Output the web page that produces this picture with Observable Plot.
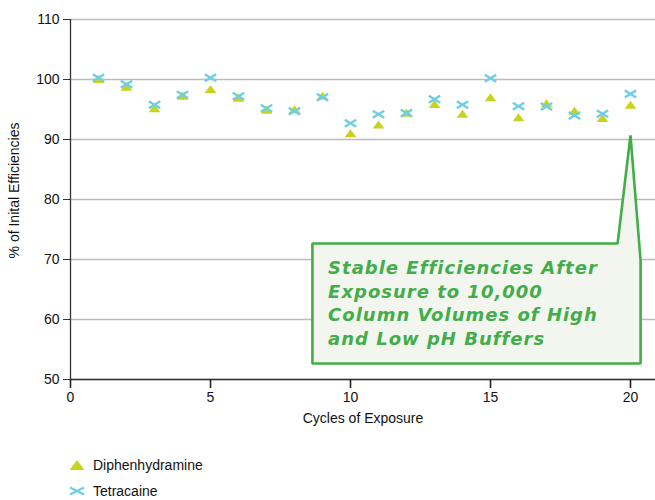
<!DOCTYPE html>
<html>
<head>
<meta charset="utf-8">
<script src="https://cdn.jsdelivr.net/npm/d3@7"></script>
<script src="https://cdn.jsdelivr.net/npm/@observablehq/plot@0.6"></script>
<style>
  html, body { margin: 0; padding: 0; background: #fff; }
  body { width: 655px; height: 500px; position: relative; overflow: hidden; font-family: "Liberation Sans", Arial, Helvetica, sans-serif; }
  #title { position: absolute; left: 0; top: 0; width: 655px; height: 8px; overflow: hidden; }
  #title div { position: absolute; left: 6px; top: -17px; white-space: nowrap; font-size: 21px; font-weight: bold; color: #1d7bbf; }
  #title span.light { color: #8fc8ea; }
  #chart { position: absolute; left: 0; top: 0; }
  #legend { position: absolute; left: 68px; top: 452px; font-size: 14px; color: #111; }
  #legend .row { display: flex; align-items: center; height: 26px; }
  #legend svg { margin-right: 7px; }
  .callout-text text { letter-spacing: 1px; }
</style>
</head>
<body>
<div id="title"><div><span class="light">Figure 4: Column Efficiencies with Alternating</span> High pH Testing for 20 Cycles of Exposure</div></div>
<div id="chart"></div>
<div id="legend"></div>
<script>
// ---- data ----
const cycles = [1, 2, 3, 4, 5, 6, 7, 8, 9, 10, 11, 12, 13, 14, 15, 16, 17, 18, 19, 20];
const diphenhydramine = [100.1, 98.8, 95.2, 97.3, 98.4, 96.95, 94.95, 95.05, 97.3, 91.05,
                         92.5, 94.45, 95.9, 94.3, 97.05, 93.7, 96.05, 94.8, 93.6, 95.8];
const tetracaine = [100.3, 99.2, 95.8, 97.45, 100.3, 97.2, 95.2, 94.7, 97.05, 92.7,
                    94.2, 94.4, 96.7, 95.8, 100.2, 95.55, 95.5, 94.0, 94.3, 97.6];
const seriesNames = ["Diphenhydramine", "Tetracaine"];
const xTicks = [0, 5, 10, 15, 20];
const yTicks = [50, 60, 70, 80, 90, 100, 110];
const calloutLines = ["Stable Efficiencies After", "Exposure to 10,000", "Column Volumes of High", "and Low pH Buffers"];
// callout outline (data units: cycles, %), pointing at cycle 20
const calloutX = [8.64, 19.54, 20.0, 20.36, 20.36, 8.64];
const calloutY = [72.67, 72.67, 90.7, 69.83, 52.67, 52.67];
const calloutTextX = 9.2;
const calloutTextY = 70.3;

// ---- styles ----
const triColor = "#c9d31f";
const xColor = "#6fcfe2";
const green = "#42ad4a";

const rowsD = cycles.map((c, i) => ({cycle: c, value: diphenhydramine[i]}));
const rowsT = cycles.map((c, i) => ({cycle: c, value: tetracaine[i]}));
const callout = calloutX.map((x, i) => ({x, y: calloutY[i]}));

// flat X symbol (wider than tall)
const flatX = {
  draw(ctx, size) {
    const w = Math.sqrt(size) * 0.62, h = w * 0.62;
    ctx.moveTo(-w, -h); ctx.lineTo(w, h);
    ctx.moveTo(-w, h); ctx.lineTo(w, -h);
  }
};
// slightly flattened triangle
const flatTri = {
  draw(ctx, size) {
    const w = Math.sqrt(size) * 0.72, h = w * 0.68;
    ctx.moveTo(0, -h); ctx.lineTo(w, h); ctx.lineTo(-w, h); ctx.closePath();
  }
};

const plot = Plot.plot({
  width: 655,
  height: 445,
  marginLeft: 70,
  marginRight: 0,
  marginTop: 19,
  marginBottom: 66,
  style: {fontFamily: "'Liberation Sans', Arial, Helvetica, sans-serif", fontSize: "14px", color: "#111", background: "#fff"},
  x: {domain: [0, 20.893], label: null},
  y: {domain: [50, 110], label: null},
  marks: [
    Plot.gridY(yTicks, {stroke: "#bcbcbc", strokeOpacity: 1, strokeWidth: 1.5}),
    Plot.ruleY([50], {stroke: "#333", strokeWidth: 1.3}),
    Plot.ruleX([0], {stroke: "#333", strokeWidth: 1.3}),
    Plot.axisY(yTicks, {tickSize: 7, tickPadding: 4, fontSize: 14, stroke: "#333", label: null}),
    Plot.axisX(xTicks, {tickSize: 9, tickPadding: 4, fontSize: 14, stroke: "#222", strokeWidth: 1.6, label: null}),
    Plot.text(["Cycles of Exposure"], {frameAnchor: "bottom", dy: 43, fontSize: 14, fill: "#111"}),
    Plot.text(["% of Inital Efficiencies"], {frameAnchor: "left", textAnchor: "middle", dx: -56, dy: -9, rotate: -90, fontSize: 14, fill: "#111"}),
    Plot.dot(rowsD, {x: "cycle", y: "value", symbol: flatTri, r: 4.6, fill: triColor, stroke: "none"}),
    Plot.dot(rowsT, {x: "cycle", y: "value", symbol: flatX, r: 5.2, fill: "none", stroke: xColor, strokeWidth: 2.4}),
    Plot.line(callout, {x: "x", y: "y", curve: "linear-closed", fill: "#f3f6ef", stroke: green, strokeWidth: 2.6, strokeLinejoin: "miter"}),
    Plot.text([calloutLines.join("\n")], {x: () => calloutTextX, y: () => calloutTextY, textAnchor: "start", lineAnchor: "top", lineHeight: 1.3, fontSize: 18, fontWeight: "bold", fontStyle: "italic", fontFamily: "'DejaVu Sans', sans-serif", fill: green, className: "callout-text"})
  ]
});
document.getElementById("chart").appendChild(plot);

// ---- legend ----
const legend = d3.select("#legend");
const r1 = legend.append("div").attr("class", "row");
const s1 = r1.append("svg").attr("width", 18).attr("height", 12);
s1.append("path").attr("d", "M9,1 L16.5,11 L1.5,11 Z").attr("fill", triColor);
r1.append("span").text(seriesNames[0]);
const r2 = legend.append("div").attr("class", "row");
const s2 = r2.append("svg").attr("width", 18).attr("height", 12);
s2.append("path").attr("d", "M2,2.5 L16,9.5 M2,9.5 L16,2.5").attr("stroke", xColor).attr("stroke-width", 2.4).attr("fill", "none");
r2.append("span").text(seriesNames[1]);
</script>
</body>
</html>
